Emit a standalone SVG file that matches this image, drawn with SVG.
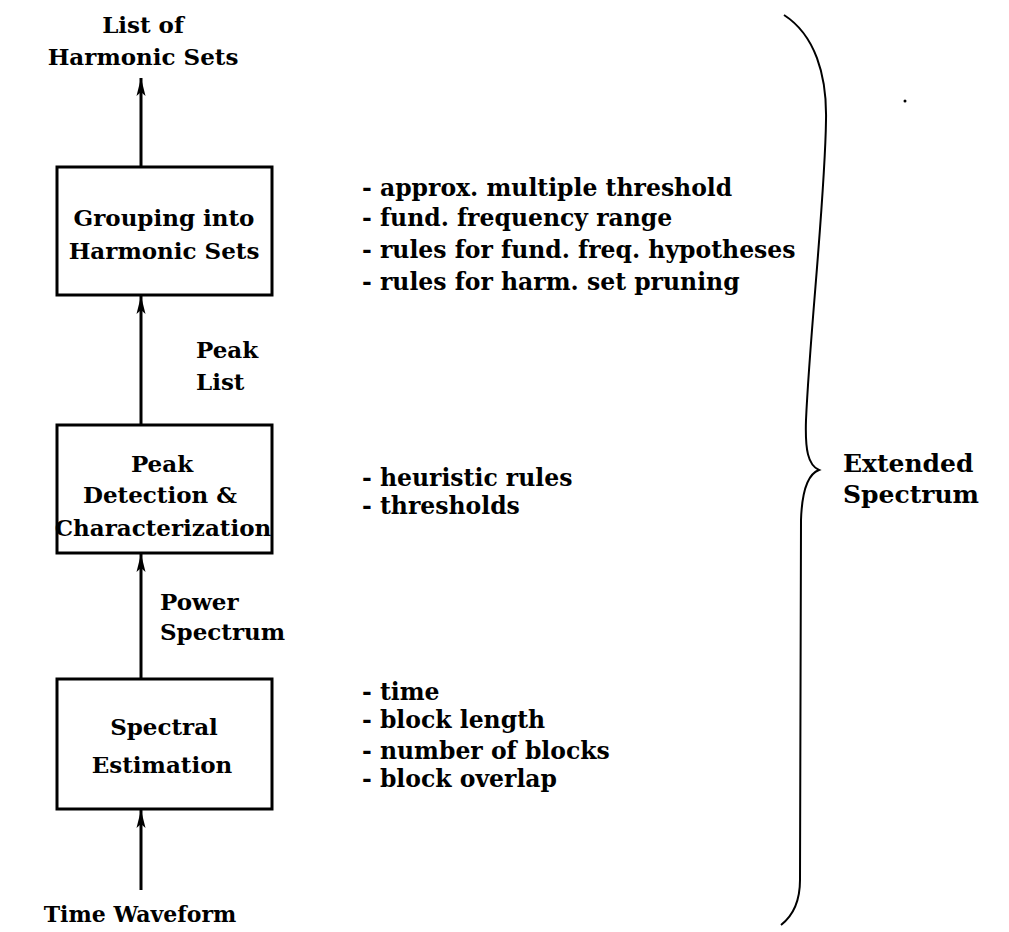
<svg xmlns="http://www.w3.org/2000/svg" width="1009" height="932" viewBox="0 0 1009 932">
<style>
text{font-family:"DejaVu Serif","Liberation Serif",serif;font-weight:bold;fill:#000}
.c{text-anchor:middle;font-size:23px}
.a{font-size:23px}
.l{font-size:23.5px}
.box{fill:#fff;stroke:#000;stroke-width:3}
.ed{stroke:#000;stroke-width:3;fill:none}
</style>
<defs>
<marker id="ah" markerUnits="userSpaceOnUse" markerWidth="18" markerHeight="10" refX="18" refY="5" orient="auto" viewBox="0 0 18 10">
<path d="M18,5 L0,0.5 L4,5 L0,9.5 Z" fill="#000"/>
</marker>
</defs>
<g id="connectors">
<line class="ed" x1="141" y1="167" x2="141" y2="78" marker-end="url(#ah)"/>
<line class="ed" x1="141" y1="425" x2="141" y2="296" marker-end="url(#ah)"/>
<line class="ed" x1="141" y1="679" x2="141" y2="554" marker-end="url(#ah)"/>
<line class="ed" x1="141" y1="890" x2="141" y2="810" marker-end="url(#ah)"/>
</g>
<g id="out"><text class="c" x="143" y="33">List of</text><text class="c" x="143" y="65">Harmonic Sets</text></g>
<g id="grouping"><rect class="box" x="57" y="167" width="215" height="128"/><text class="c" x="164" y="226">Grouping into</text><text class="c" x="164" y="259">Harmonic Sets</text></g>
<g id="peaklist"><text class="a" x="196" y="358">Peak</text><text class="a" x="196" y="390">List</text></g>
<g id="peak"><rect class="box" x="57" y="425" width="215" height="128"/><text class="c" x="162" y="472">Peak</text><text class="c" x="160" y="503">Detection &amp;</text><text class="c" x="163" y="536">Characterization</text></g>
<g id="power"><text class="a" x="160" y="610">Power</text><text class="a" x="160" y="640">Spectrum</text></g>
<g id="spectral"><rect class="box" x="57" y="679" width="215" height="130"/><text class="c" x="164" y="735">Spectral</text><text class="c" x="162" y="773">Estimation</text></g>
<g id="in"><text class="c" x="140" y="922" style="font-size:22px">Time Waveform</text></g>
<g id="params1"><text class="l" x="362" y="196">- approx. multiple threshold</text><text class="l" x="362" y="226">- fund. frequency range</text><text class="l" x="362" y="258">- rules for fund. freq. hypotheses</text><text class="l" x="362" y="290">- rules for harm. set pruning</text></g>
<g id="params2"><text class="l" x="362" y="486">- heuristic rules</text><text class="l" x="362" y="514">- thresholds</text></g>
<g id="params3"><text class="l" x="362" y="700">- time</text><text class="l" x="362" y="728">- block length</text><text class="l" x="362" y="759">- number of blocks</text><text class="l" x="362" y="787">- block overlap</text></g>
<g id="brace">
<path d="M784,15 C815,35 827,75 826,120 C825,200 810,330 806,420 C805,450 808,465 819,470 C808,474 802,490 801,520 C800,650 801,780 800,880 C800,905 790,918 781,925" fill="none" stroke="#000" stroke-width="2"/>
<text x="843" y="472" style="font-size:25px">Extended</text><text x="843" y="503" style="font-size:25px">Spectrum</text>
<circle cx="905" cy="101" r="1.5" fill="#000"/>
</g>
</svg>
